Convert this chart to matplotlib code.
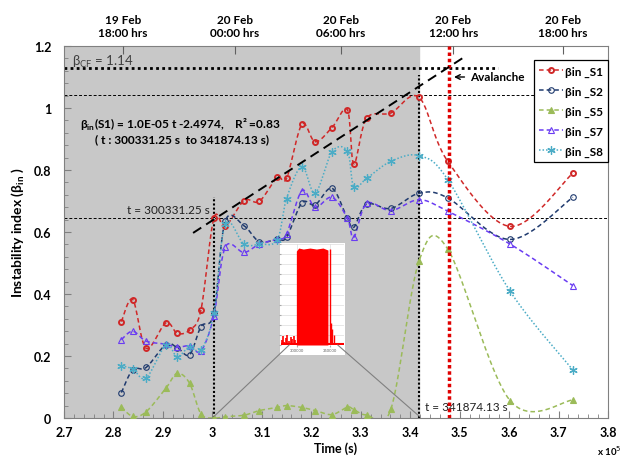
import numpy as np
import matplotlib
matplotlib.use('Agg')
from matplotlib import pyplot as plt
from matplotlib.patches import Rectangle, ConnectionPatch
from matplotlib.lines import Line2D
from matplotlib.ticker import MultipleLocator, FuncFormatter

plt.rcParams['font.family'] = ['Lato', 'DejaVu Sans']
plt.rcParams['mathtext.fontset'] = 'dejavusans'

# sample times (s) and instability index of each station
t = [281600, 283900, 286600, 290600, 292900, 295400, 297700, 300300, 302600, 306400, 309500, 313100,
     315000, 318100, 320800, 324200, 327300, 328600, 331200, 336100, 341800, 347600, 360200, 372900]
b_s1 = [0.311, 0.382, 0.225, 0.307, 0.273, 0.284, 0.349, 0.644, 0.618, 0.701, 0.699, 0.776,
        0.773, 0.947, 0.891, 0.937, 0.994, 0.820, 0.967, 0.984, 1.034, 0.828, 0.618, 0.790]
b_s2 = [0.082, 0.156, 0.163, 0.237, 0.227, 0.204, 0.295, 0.338, 0.635, 0.620, 0.569, 0.577,
        0.583, 0.694, 0.688, 0.741, 0.644, 0.615, 0.690, 0.676, 0.725, 0.710, 0.576, 0.712]
b_s5 = [0.036, 0.005, 0.020, 0.096, 0.144, 0.112, 0.013, 0.000, 0.004, 0.009, 0.024, 0.034,
        0.040, 0.034, 0.024, 0.011, 0.035, 0.027, 0.010, 0.029, 0.507, 0.545, 0.056, 0.058]
b_s7 = [0.253, 0.280, 0.248, 0.238, 0.228, 0.233, 0.216, 0.330, 0.551, 0.534, 0.561, 0.577,
        0.594, 0.733, 0.680, 0.712, 0.644, 0.583, 0.692, 0.669, 0.704, 0.667, 0.561, 0.427]
b_s8 = [0.169, 0.158, 0.129, 0.235, 0.198, 0.230, 0.220, 0.338, 0.626, 0.561, 0.561, 0.574,
        0.708, 0.811, 0.726, 0.859, 0.861, 0.746, 0.773, 0.828, 0.846, 0.769, 0.409, 0.155]

t_start = 300331.25
t_end = 341874.13
t_avalanche = 347760
beta_cf = 1.13
beta_max = 1.043
beta_start = 0.644
fit_t = [296100, 350800]
fit_b = [0.597, 1.163]

top_ticks = [281900, 304500, 326000, 348700, 370800]
top_labels = ['19 Feb\n18:00 hrs', '20 Feb\n00:00 hrs', '20 Feb\n06:00 hrs',
              '20 Feb\n12:00 hrs', '20 Feb\n18:00 hrs']

# inset: event activity envelope
ins_spike_t = [276800, 278600, 281000, 283400, 285800, 288200, 290800, 293200, 295600, 297800]
ins_spike_a = [0.05, 0.09, 0.03, 0.07, 0.10, 0.04, 0.08, 0.06, 0.09, 0.05]
ins_block_t = [299400, 303000, 310000, 320000, 330000, 340000, 347500]
ins_block_a = [0.93, 0.96, 0.95, 0.96, 0.95, 0.96, 0.94]
ins_sparse_t = [350500, 352300, 354200, 356000]
ins_sparse_a = [0.95, 0.22, 0.16, 0.10]


def smooth(x, y, n=24):
    # Excel-like smoothed line (cubic bezier through points)
    pts = np.column_stack([x, y]).astype(float)
    P = np.vstack([pts[0], pts, pts[-1]])
    s = np.linspace(0, 1, n, endpoint=False)[:, None]
    out = []
    for i in range(1, len(P) - 2):
        p0, p1, p2, p3 = P[i - 1], P[i], P[i + 1], P[i + 2]
        c1 = p1 + (p2 - p0) / 6
        c2 = p2 - (p3 - p1) / 6
        out.append((1 - s) ** 3 * p1 + 3 * (1 - s) ** 2 * s * c1 + 3 * (1 - s) * s ** 2 * c2 + s ** 3 * p2)
    out.append(pts[-1:])
    return np.vstack(out)


fig = plt.figure(figsize=(6.23, 4.64), dpi=100)
ax = fig.add_axes([64 / 623, 1 - 419 / 464, 544 / 623, 372 / 464])
ax.set_xlim(270000, 380000)
ax.set_ylim(0, 1.2)
ax.axvspan(270000, t_end, color='#c8c8c8', zorder=0)

series = [
    ('βin _S1', b_s1, '#d02828', (0, (3, 2)), 'o', 'none', 3.6, 1.4),
    ('βin _S2', b_s2, '#1f3a6e', (0, (3, 2)), 'o', 'none', 4, 0.8),
    ('βin _S5', b_s5, '#9bbb59', (0, (3, 2)), '^', '#9bbb59', 4, 0.8),
    ('βin _S7', b_s7, '#6a3cf2', (0, (3, 2)), '^', 'none', 4.2, 0.8),
    ('βin _S8', b_s8, '#4bacc6', (0, (1, 1.3)), (6, 2, 0), 'none', 6, 0.9),
]
handles = []
for name, vals, col, ls, mk, fc, ms, mew in series:
    curve = smooth(t, vals)
    ax.plot(curve[:, 0], curve[:, 1], color=col, ls=ls, lw=1.1, zorder=3)
    ax.plot(t, vals, ls='none', marker=mk, ms=ms, mfc=fc, mec=col, mew=mew, zorder=4)
    handles.append(Line2D([], [], color=col, ls=ls, lw=1.1, marker=mk, ms=ms, mfc=fc, mec=col, mew=mew))

# reference lines
ax.hlines(beta_cf, 270000, 357800, colors='k', linestyles=(0, (1, 1.2)), lw=2, zorder=2)
ax.hlines(beta_max, 270000, 366200, colors='k', linestyles=(0, (3, 2)), lw=0.7, zorder=2)
ax.hlines(beta_start, 270000, 380000, colors='k', linestyles=(0, (3, 2)), lw=0.7, zorder=2)
ax.vlines(t_start, 0, 0.712, colors='k', linestyles=(0, (1, 1)), lw=1.5, zorder=2)
ax.vlines(t_end, 0, 1.105, colors='k', linestyles=(0, (1, 1)), lw=1.5, zorder=2)
ax.vlines(t_avalanche, 0, 1.2, colors='#e00000', linestyles=(0, (1, 0.8)), lw=2.5, zorder=5)
ax.plot(fit_t, fit_b, color='k', ls=(0, (5, 3)), lw=1.4, zorder=5)

ax.text(271600, 1.153, r'$\mathregular{\beta_{CF}}$ = 1.14', fontsize=9.5, color='#404040', va='center')
ax.text(273200, 0.948, 'β$_\\mathregular{in}$(S1) = 1.0E-05 t -2.4974,    R² =0.83', fontsize=8.6,
        fontweight='bold', va='center')
ax.text(276300, 0.900, '( t : 300331.25 s  to 341874.13 s)', fontsize=8.6, fontweight='bold', va='center')
ax.text(299500, 0.674, 't = 300331.25 s', fontsize=8.5, color='#222222', ha='right', va='center')
ax.text(343000, 0.038, 't = 341874.13 s', fontsize=8.5, color='#222222', ha='left', va='center')
ax.annotate('Avalanche', xy=(348300, 1.10), xytext=(352100, 1.10), fontsize=8.5, fontweight='bold',
            va='center', arrowprops=dict(arrowstyle='->', color='k', lw=1))

# axes styling
ax.xaxis.set_major_locator(MultipleLocator(10000))
ax.xaxis.set_minor_locator(MultipleLocator(2000))
ax.xaxis.set_major_formatter(FuncFormatter(lambda v, p: f'{v / 1e5:g}'))
ax.yaxis.set_major_locator(MultipleLocator(0.2))
ax.yaxis.set_minor_locator(MultipleLocator(0.04))
ax.yaxis.set_major_formatter(FuncFormatter(lambda v, p: f'{v:g}'))
ax.tick_params(which='both', direction='in', color='#808080')
ax.tick_params(which='major', length=5, labelsize=9)
ax.tick_params(axis='x', which='major', pad=6)
ax.tick_params(axis='y', which='major', pad=9)
ax.tick_params(which='minor', length=3)
for lab in ax.get_xticklabels() + ax.get_yticklabels():
    lab.set_fontweight('bold')
for sp in ax.spines.values():
    sp.set_color('#808080')
ax.set_xlabel('Time (s)', fontsize=9, fontweight='bold', labelpad=2)
ax.set_ylabel('Instability index (β$_\\mathregular{in}$ )', fontsize=10, fontweight='bold', labelpad=6)
fig.text(597 / 623, 1 - 451 / 464, 'x 10$^5$', fontsize=7, fontweight='bold', va='center')

top = ax.twiny()
top.set_xlim(ax.get_xlim())
top.set_xticks(top_ticks)
top.set_xticklabels(top_labels, fontsize=8.5, fontweight='bold')
top.tick_params(direction='in', length=6, color='#606060', pad=6)
for sp in top.spines.values():
    sp.set_visible(False)

leg = ax.legend(handles, [s[0] for s in series], loc='upper right', bbox_to_anchor=(1.0, 0.962),
                frameon=True, fancybox=False, edgecolor='k', framealpha=1, handlelength=2.0,
                handletextpad=0.15, labelspacing=0.75, borderpad=0.45, borderaxespad=0,
                prop={'weight': 'bold', 'size': 8.5})
leg.get_frame().set_linewidth(0.9)
leg.set_zorder(10)

# inset with activity
ax.add_patch(Rectangle((280 / 623, 1 - 356 / 464), 65 / 623, 112 / 464, transform=fig.transFigure,
                       facecolor='white', edgecolor='none', clip_on=False, zorder=6))
ins = fig.add_axes([281 / 623, 1 - 346 / 464, 63 / 623, 101 / 464])
ins.set_xlim(276000, 372000)
ins.set_ylim(0, 1.0)
ins.set_facecolor('white')
ins.vlines(ins_spike_t, 0, ins_spike_a, colors='red', lw=1.2)
ins.fill_between(ins_block_t, 0, ins_block_a, color='red', lw=0)
ins.vlines(ins_sparse_t, 0, ins_sparse_a, colors='red', lw=1.0)
ins.axhline(0.01, color='red', lw=1.5)
ins.set_xticks([300000, 350000])
ins.set_xticklabels(['300000', '350000'], fontsize=3, color='#606060')
ins.set_yticks(np.arange(0, 1.01, 0.1))
ins.set_yticklabels([])
ins.grid(True, color='#dddddd', lw=0.5)
ins.set_axisbelow(True)
ins.tick_params(length=1.5, pad=1, color='#aaaaaa')
for sp in ins.spines.values():
    sp.set_visible(False)

for fx, tx in [(0.13, t_start), (0.9, t_end)]:
    con = ConnectionPatch(xyA=(fx, 0), coordsA=ins.transAxes, xyB=(tx, 0.005), coordsB=ax.transData,
                          color='#808080', lw=0.8)
    fig.add_artist(con)

fig.savefig('out.png', dpi=100)
